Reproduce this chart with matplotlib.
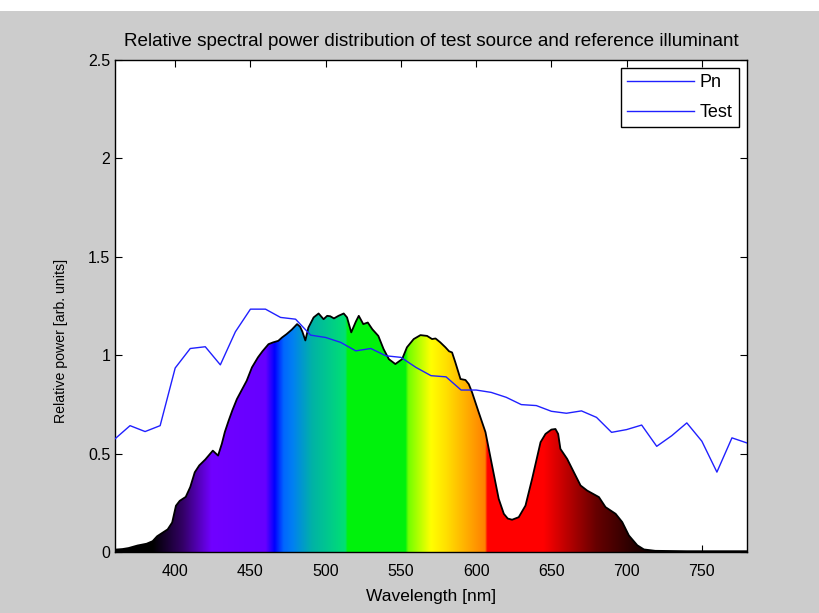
import numpy as np
import matplotlib
matplotlib.use('Agg')
import matplotlib.pyplot as plt
from matplotlib.lines import Line2D
from matplotlib.patches import Rectangle

plt.rcParams['font.family'] = ['Liberation Sans', 'DejaVu Sans']

# reference illuminant (10 nm steps)
pn_wl = np.arange(360, 781, 10)
pn_val = [0.575, 0.642, 0.612, 0.642, 0.935, 1.034, 1.043, 0.951, 1.119, 1.234,
          1.234, 1.192, 1.183, 1.102, 1.090, 1.065, 1.022, 1.034, 0.997, 0.989,
          0.938, 0.896, 0.890, 0.823, 0.823, 0.811, 0.786, 0.749, 0.744, 0.715,
          0.705, 0.717, 0.684, 0.608, 0.622, 0.645, 0.537, 0.591, 0.656, 0.563,
          0.406, 0.580, 0.554]

# test source
test_wl = [360, 365, 369, 375, 381, 385, 388, 391, 395, 398, 400.5, 403, 407, 410,
           413, 416, 420, 425, 428.5, 431, 433, 435.5, 438, 441, 444, 447.5, 451,
           455, 458, 462, 465, 468.5, 471, 474, 477.5, 481, 483, 484.5, 486.5,
           488.5, 492, 495.3, 498.6, 501, 503, 505.5, 508.5, 512, 514.2, 517, 520,
           522, 525, 528, 531, 535, 538.5, 542, 546.3, 550.8, 554, 558.5, 563,
           567.4, 570.7, 573, 576.2, 579.6, 582, 584, 586.2, 589.6, 592.9, 595.1,
           597.3, 601.7, 606.2, 610.6, 615, 618.4, 621, 623.9, 628.3, 632.8,
           637.2, 642.8, 646.1, 650, 652.7, 654.5, 656, 660.5, 664.9, 669.4,
           673.8, 681.6, 686, 692.7, 697.1, 701.5, 707.1, 711.5, 719, 740, 760, 780]
test_val = [0.012, 0.015, 0.020, 0.033, 0.042, 0.055, 0.080, 0.095, 0.115, 0.150,
            0.235, 0.260, 0.280, 0.330, 0.405, 0.440, 0.470, 0.515, 0.490, 0.550,
            0.610, 0.667, 0.720, 0.777, 0.820, 0.870, 0.938, 0.989, 1.020, 1.056,
            1.065, 1.073, 1.090, 1.107, 1.130, 1.158, 1.145, 1.120, 1.075, 1.140,
            1.192, 1.212, 1.183, 1.200, 1.198, 1.187, 1.200, 1.212, 1.192, 1.116,
            1.170, 1.200, 1.158, 1.166, 1.132, 1.098, 1.031, 0.980, 0.955, 0.980,
            1.040, 1.082, 1.102, 1.098, 1.082, 1.085, 1.065, 1.040, 1.020, 1.014,
            0.963, 0.879, 0.874, 0.853, 0.811, 0.710, 0.609, 0.439, 0.270, 0.194,
            0.170, 0.164, 0.177, 0.236, 0.372, 0.558, 0.600, 0.622, 0.625, 0.600,
            0.524, 0.473, 0.406, 0.338, 0.312, 0.279, 0.228, 0.194, 0.152, 0.084,
            0.034, 0.013, 0.006, 0.004, 0.004, 0.004]

# spectrum colour stops
col_wl = [360, 385, 405, 424, 460, 466, 469, 472, 478, 491, 513, 514.5, 553, 555,
          570, 580, 606, 607.5, 645, 680, 705, 720, 780]
col_rgb = [(0, 0, 0), (0, 0, 0), (0.2, 0, 0.4), (0.44, 0, 1), (0.4, 0, 1),
           (0, 0, 1), (0, 0.2, 1), (0, 0.4, 1), (0, 0.5, 0.95), (0, 0.7, 0.65),
           (0, 0.88, 0.45), (0, 0.95, 0.05), (0, 0.95, 0.05), (0.45, 1, 0),
           (1, 1, 0), (1, 0.88, 0), (1, 0.5, 0), (1, 0, 0), (1, 0, 0),
           (0.4, 0, 0), (0.15, 0, 0), (0.05, 0, 0), (0, 0, 0)]

fig = plt.figure(figsize=(8.2, 6.13), dpi=100, facecolor='#cccccc')
fig.patches.append(Rectangle((0, 1 - 11 / 613), 1, 11 / 613, transform=fig.transFigure,
                             facecolor='white', edgecolor='none', zorder=-1))
ax = fig.add_axes([115 / 820, 1 - 552 / 613, 632 / 820, 492 / 613])
ax.set_axisbelow(True)

# spectrum coloured fill clipped by the test curve
xs = np.linspace(360, 780, 1200)
rgb = np.array(col_rgb)
img = np.stack([np.interp(xs, col_wl, rgb[:, k]) for k in range(3)], axis=-1)[None, :, :]
im = ax.imshow(img, extent=[360, 780, 0, 2.5], aspect='auto', origin='lower',
               interpolation='bilinear', zorder=1)
poly = ax.fill_between(test_wl, 0, test_val, facecolor='none', edgecolor='none')
im.set_clip_path(poly.get_paths()[0], transform=ax.transData)
ax.plot(test_wl, test_val, color='black', lw=1.3, zorder=2)

pn_line, = ax.plot(pn_wl, pn_val, color='#2020ff', lw=1.0, zorder=3)

ax.set_xlim(360, 780)
ax.set_ylim(0, 2.5)
ax.set_xticks([400, 450, 500, 550, 600, 650, 700, 750])
ax.set_yticks([0, 0.5, 1, 1.5, 2, 2.5])
ax.set_yticklabels(['0', '0.5', '1', '1.5', '2', '2.5'])
ax.tick_params(direction='in', length=5, top=True, right=True, labelsize=11.5, width=0.8)
ax.tick_params(axis='x', pad=9)
for s in ax.spines.values():
    s.set_linewidth(1.0)

ax.set_title('Relative spectral power distribution of test source and reference illuminant',
             fontsize=13.6, pad=10)
ax.set_xlabel('Wavelength [nm]', fontsize=12.5)
ax.xaxis.set_label_coords(0.5, -0.076)
ax.set_ylabel('Relative power [arb. units]', fontsize=10.2)
ax.yaxis.set_label_coords(-0.074, 0.43)

test_handle = Line2D([], [], color='#2020ff', lw=1.0)
leg = ax.legend([pn_line, test_handle], ['Pn', 'Test'], loc='upper right', fontsize=13,
                fancybox=False, framealpha=1, edgecolor='black', handlelength=3.7,
                labelspacing=0.7, borderaxespad=0.45, handletextpad=0.3, borderpad=0.35)
leg.get_frame().set_linewidth(1.0)

fig.savefig('out.png', dpi=100, facecolor=fig.get_facecolor())
